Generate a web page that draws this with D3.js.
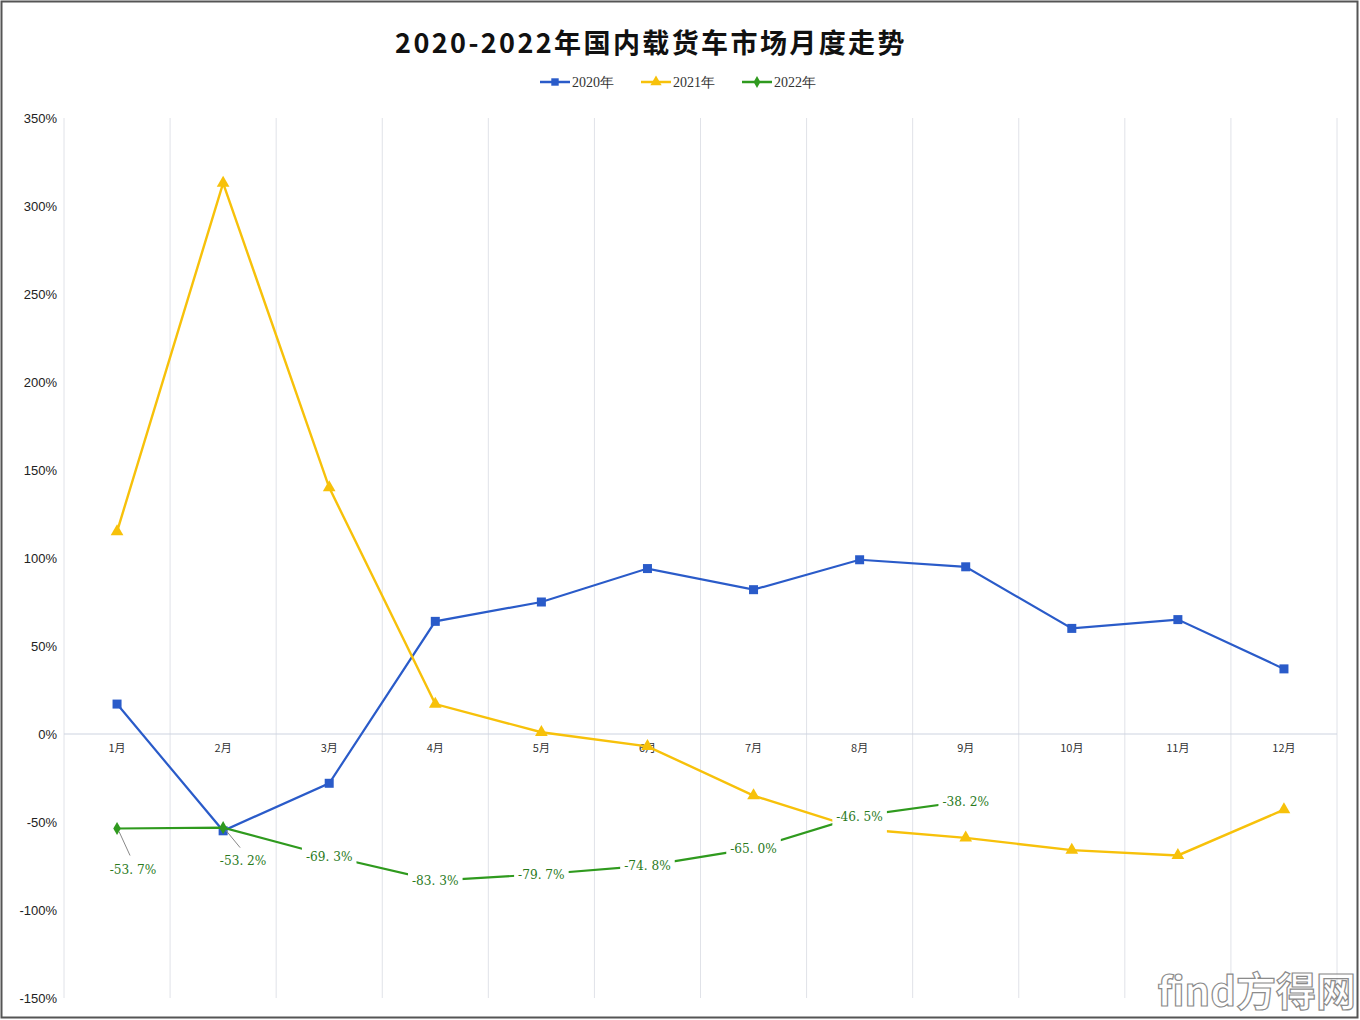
<!DOCTYPE html>
<html><head><meta charset="utf-8">
<script src="https://cdn.jsdelivr.net/npm/d3@7"></script>
<style>body{margin:0;background:#fff;}svg{display:block;}</style>
</head><body>
<svg id="c" width="1360" height="1020"></svg>
<script>
const months = ["1月","2月","3月","4月","5月","6月","7月","8月","9月","10月","11月","12月"];
const s2020 = [17, -55, -28, 64, 75, 94, 82, 99, 95, 60, 65, 37];
const s2021 = [115, 313, 140, 17, 1, -7, -35, -54, -59, -66, -69, -43];
const s2022 = [-53.7, -53.2, -69.3, -83.3, -79.7, -74.8, -65.0, -46.5, -38.2];
const yTicks = [350, 300, 250, 200, 150, 100, 50, 0, -50, -100, -150];
const seriesNames = ["2020年","2021年","2022年"];

const svg = d3.select("#c");
const W = 1360, H = 1020;
svg.append("rect").attr("x",1.5).attr("y",1.5).attr("width",W-4).attr("height",H-4)
  .attr("fill","#fff").attr("stroke","#555").attr("stroke-width",2);

const pLeft = 64, pRight = 1337, pTop = 118, pBottom = 998;
const x = d3.scaleBand().domain(months).range([pLeft, pRight]);
const y = d3.scaleLinear().domain([-150, 350]).range([pBottom, pTop]);
const cx = m => x(m) + x.bandwidth()/2;

// vertical gridlines
const gridX = months.map(m => x(m)).concat([pRight]);
svg.append("g").selectAll("line").data(gridX).join("line")
  .attr("x1", d=>d).attr("x2", d=>d).attr("y1", pTop).attr("y2", pBottom)
  .attr("stroke", "#e0e2e8").attr("stroke-width", 1);

// zero axis
svg.append("line").attr("x1", pLeft).attr("x2", pRight).attr("y1", y(0)).attr("y2", y(0))
  .attr("stroke", "#cdd3e0").attr("stroke-width", 1);

// y axis labels
const yAxis = d3.axisLeft(y).tickValues(yTicks).tickSize(0).tickPadding(7).tickFormat(d => d + "%");
const ga = svg.append("g").attr("transform", `translate(${pLeft},0)`).call(yAxis);
ga.select(".domain").remove();
ga.selectAll("text").attr("font-family","Liberation Sans, Arial, sans-serif").attr("font-size",13).attr("fill","#222");

// x labels
const xAxis = d3.axisBottom(x).tickSize(0).tickPadding(10);
const gx = svg.append("g").attr("transform", `translate(0,${y(0)})`).call(xAxis);
gx.select(".domain").remove();
gx.selectAll("text").attr("font-family","Noto Sans CJK SC, sans-serif").attr("font-size",11).attr("fill","#333");

const line = d3.line().x((d,i)=>cx(months[i])).y(d=>y(d));

const c2020 = "#2a5bc9", c2021 = "#f7c10a", c2022 = "#2f9a1e";

// 2020
svg.append("path").datum(s2020).attr("d", line).attr("fill","none").attr("stroke",c2020).attr("stroke-width",2.2);
svg.append("g").selectAll("rect").data(s2020).join("rect")
  .attr("x",(d,i)=>cx(months[i])-4.5).attr("y",d=>y(d)-4.5).attr("width",9).attr("height",9).attr("fill",c2020);

// 2021
svg.append("path").datum(s2021).attr("d", line).attr("fill","none").attr("stroke",c2021).attr("stroke-width",2.4);
svg.append("g").selectAll("path").data(s2021).join("path")
  .attr("d", d3.symbol(d3.symbolTriangle, 70))
  .attr("transform",(d,i)=>`translate(${cx(months[i])},${y(d)})`).attr("fill",c2021);

// 2022
svg.append("path").datum(s2022).attr("d", line).attr("fill","none").attr("stroke",c2022).attr("stroke-width",2.2);
svg.append("g").selectAll("path").data(s2022).join("path")
  .attr("d", d3.symbol(d3.symbolDiamond, 50))
  .attr("transform",(d,i)=>`translate(${cx(months[i])},${y(d)})`).attr("fill",c2022);

// 2022 labels
const lblG = svg.append("g");
s2022.forEach((v,i) => {
  let lx = cx(months[i]), ly = y(v);
  if (i === 0) { lx += 16; ly += 41;
    lblG.append("line").attr("x1",cx(months[i])+2).attr("y1",y(v)+3).attr("x2",cx(months[i])+13).attr("y2",y(v)+27).attr("stroke","#888").attr("stroke-width",1);
  }
  if (i === 1) { lx += 20; ly += 33;
    lblG.append("line").attr("x1",cx(months[i])+3).attr("y1",y(v)+3).attr("x2",cx(months[i])+17).attr("y2",y(v)+20).attr("stroke","#888").attr("stroke-width",1);
  }
  const t = lblG.append("text").attr("x", lx).attr("y", ly).attr("dy","0.35em")
    .attr("text-anchor","middle").attr("font-family","DejaVu Serif Condensed, Liberation Serif, serif")
    .attr("font-size",13.5).attr("fill","#2a7a1c").text(v.toFixed(1).replace(".", ". ") + "%");
  const bb = t.node().getBBox();
  if (i >= 2) {
    lblG.insert("rect", "text").attr("x", bb.x-4).attr("y", bb.y-3).attr("width", bb.width+8).attr("height", bb.height+17).attr("fill","#fff");
  }
});
lblG.selectAll("text").raise();

// title
svg.append("text").attr("x", 651).attr("y", 53).attr("text-anchor","middle")
  .attr("font-family","Noto Sans CJK SC, sans-serif").attr("font-weight","bold").attr("font-size",27)
  .attr("letter-spacing",2.4).attr("fill","#111").text("2020-2022年国内载货车市场月度走势");

// legend
const legColors = [c2020, c2021, c2022];
const legX = [540, 641, 742];
seriesNames.forEach((n,i) => {
  const g = svg.append("g").attr("transform", `translate(${legX[i]},82)`);
  g.append("line").attr("x1",0).attr("x2",30).attr("y1",0).attr("y2",0).attr("stroke",legColors[i]).attr("stroke-width",2.5);
  const sym = [d3.symbolSquare, d3.symbolTriangle, d3.symbolDiamond][i];
  g.append("path").attr("d", d3.symbol(sym, i===2?40:55)).attr("transform","translate(15,0)").attr("fill",legColors[i]);
  g.append("text").attr("x",32).attr("y",0).attr("dy","0.35em").attr("font-family","Liberation Serif, serif")
    .attr("font-size",14).attr("fill","#333").text(n);
});

// watermark
svg.append("text").attr("x", 1356).attr("y", 1006).attr("text-anchor","end")
  .attr("font-family","Noto Sans CJK SC, sans-serif").attr("font-size",40).attr("font-weight","bold")
  .attr("fill","#fff").attr("stroke","#777").attr("stroke-width",1.2).attr("opacity",0.85).text("find方得网");
</script>
</body></html>
